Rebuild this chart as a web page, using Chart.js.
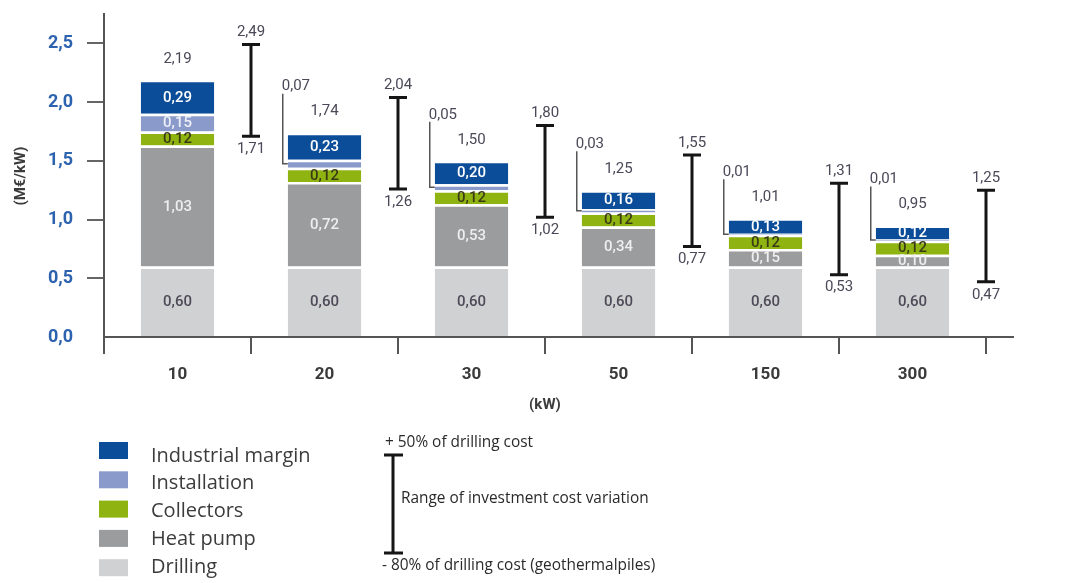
<!DOCTYPE html>
<html>
<head>
<meta charset="utf-8">
<script src="https://cdn.jsdelivr.net/npm/chart.js@4.4.0/dist/chart.umd.min.js"></script>
<style>
  html, body { margin: 0; padding: 0; background: #ffffff; }
  #wrap { width: 1083px; height: 583px; }
</style>
</head>
<body>
<div id="wrap"><canvas id="c" width="1083" height="583"></canvas></div>
<script>
// Investment cost per kW by installed heat-pump capacity
const categories = ['10', '20', '30', '50', '150', '300'];
const drilling = [0.60, 0.60, 0.60, 0.60, 0.60, 0.60];
const heatPump = [1.03, 0.72, 0.53, 0.34, 0.15, 0.10];
const collectors = [0.12, 0.12, 0.12, 0.12, 0.12, 0.12];
const installation = [0.15, 0.07, 0.05, 0.03, 0.01, 0.01];
const industrialMargin = [0.29, 0.23, 0.20, 0.16, 0.13, 0.12];

// Range of investment cost variation (+50% / -80% of drilling cost)
const rangeHigh = [2.49, 2.04, 1.80, 1.55, 1.31, 1.25];
const rangeLow = [1.71, 1.26, 1.02, 0.77, 0.53, 0.47];

const yTickValues = [0, 0.5, 1.0, 1.5, 2.0, 2.5];

const seriesNames = ['Drilling', 'Heat pump', 'Collectors', 'Installation', 'Industrial margin'];
const seriesColors = ['#d0d1d3', '#9b9c9e', '#8fb412', '#8a9bcb', '#0b4d99'];
const seriesLabelColors = ['#4e4a58', '#eeeeee', '#3a3a14', '#eef0f8', '#ffffff'];

const fmt = (v, d) => v.toFixed(d).replace('.', ',');

const valueFont = '15px Roboto';
const segFont = '500 15px Roboto';
const textGrey = '#4b4858';

const annotations = {
  id: 'annotations',
  afterDatasetsDraw(chart) {
    const ctx = chart.ctx;
    const xs = chart.scales.x;
    const ys = chart.scales.y;
    const area = chart.chartArea;
    const metas = chart.data.datasets.map((d, i) => chart.getDatasetMeta(i));
    const catW = xs.getPixelForValue(1) - xs.getPixelForValue(0);

    ctx.save();
    ctx.textAlign = 'center';
    ctx.textBaseline = 'middle';

    // labels inside the segments
    metas.forEach((meta, di) => {
      meta.data.forEach((el, i) => {
        const v = chart.data.datasets[di].data[i];
        const h = Math.abs(el.base - el.y);
        if (di === 3 && h < 14) return; // thin installation slices get a bracket
        ctx.font = segFont;
        ctx.fillStyle = seriesLabelColors[di];
        ctx.fillText(fmt(v, 2), el.x, (el.y + el.base) / 2 + 1);
      });
    });

    // totals and installation brackets
    categories.forEach((c, i) => {
      const total = chart.data.datasets.reduce((s, d) => s + d.data[i], 0);
      const top = metas[4].data[i];
      const totalY = top.y - 21;
      ctx.font = valueFont;
      ctx.fillStyle = textGrey;
      ctx.textAlign = 'center';
      ctx.fillText(fmt(total, 2), top.x, totalY);

      const inst = metas[3].data[i];
      if (Math.abs(inst.base - inst.y) < 14) {
        const left = inst.x - inst.width / 2;
        const bx = left - 5;
        const labelY = totalY - 25;
        const midY = (inst.y + inst.base) / 2;
        ctx.strokeStyle = '#555555';
        ctx.lineWidth = 1.5;
        ctx.beginPath();
        ctx.moveTo(bx, labelY + 7);
        ctx.lineTo(bx, midY);
        ctx.lineTo(left, midY);
        ctx.stroke();
        ctx.textAlign = 'left';
        ctx.fillStyle = textGrey;
        ctx.fillText(fmt(installation[i], 2), bx - 1, labelY);
        ctx.textAlign = 'center';
      }

      // range of investment cost variation
      const rx = top.x + catW / 2;
      const yHi = ys.getPixelForValue(rangeHigh[i]);
      const yLo = ys.getPixelForValue(rangeLow[i]);
      ctx.strokeStyle = '#151515';
      ctx.lineWidth = 3;
      ctx.beginPath();
      ctx.moveTo(rx, yHi); ctx.lineTo(rx, yLo);
      ctx.moveTo(rx - 9, yHi); ctx.lineTo(rx + 9, yHi);
      ctx.moveTo(rx - 9, yLo); ctx.lineTo(rx + 9, yLo);
      ctx.stroke();
      ctx.fillStyle = textGrey;
      ctx.font = valueFont;
      ctx.fillText(fmt(rangeHigh[i], 2), rx, yHi - 12);
      ctx.fillText(fmt(rangeLow[i], 2), rx, yLo + 13);
    });

    // x-axis line runs a little past the last category
    ctx.strokeStyle = '#555555';
    ctx.lineWidth = 2;
    ctx.beginPath();
    ctx.moveTo(area.right, area.bottom);
    ctx.lineTo(area.right + 28, area.bottom);
    ctx.stroke();
    ctx.restore();
  },
  afterDraw(chart) {
    const ctx = chart.ctx;
    ctx.save();

    // axis titles
    ctx.fillStyle = '#3c3c3c';
    ctx.font = 'bold 15px Roboto';
    ctx.textAlign = 'center';
    ctx.textBaseline = 'middle';
    ctx.fillText('(kW)', 545, 405);
    ctx.save();
    ctx.translate(21, 176);
    ctx.rotate(-Math.PI / 2);
    ctx.fillText('(M€/kW)', 0, 0);
    ctx.restore();

    // series legend, top segment first
    ctx.textAlign = 'left';
    ctx.font = '20px "Open Sans"';
    for (let k = 0; k < seriesNames.length; k++) {
      const di = seriesNames.length - 1 - k;
      const top = 442 + k * 29.3;
      ctx.fillStyle = seriesColors[di];
      ctx.fillRect(99, top, 29, 17);
      ctx.fillStyle = '#3c3c3c';
      ctx.fillText(seriesNames[di], 151, 456 + k * 27.7);
    }

    // range legend
    ctx.strokeStyle = '#151515';
    ctx.lineWidth = 3;
    ctx.beginPath();
    ctx.moveTo(393, 455); ctx.lineTo(393, 553);
    ctx.moveTo(384, 455); ctx.lineTo(403, 455);
    ctx.moveTo(384, 553); ctx.lineTo(403, 553);
    ctx.stroke();
    ctx.fillStyle = '#2a2a2a';
    ctx.font = '15.4px "Open Sans"';
    ctx.fillText('+ 50% of drilling cost', 385, 443);
    ctx.fillText('Range of investment cost variation', 401, 499);
    ctx.fillText('- 80% of drilling cost (geothermalpiles)', 382, 566);
    ctx.restore();
  }
};

const seriesData = [drilling, heatPump, collectors, installation, industrialMargin];

new Chart(document.getElementById('c'), {
  type: 'bar',
  data: {
    labels: categories,
    datasets: seriesData.map((d, i) => ({
      label: seriesNames[i],
      data: d,
      backgroundColor: seriesColors[i],
      borderColor: '#ffffff',
      borderWidth: { top: 2.5, left: 0, right: 0, bottom: 0 },
      borderSkipped: false,
      categoryPercentage: 1.0,
      barPercentage: 0.5
    }))
  },
  options: {
    responsive: false,
    animation: false,
    events: [],
    layout: { padding: { left: 0, top: 14, right: 97, bottom: 0 } },
    plugins: { legend: { display: false }, tooltip: { enabled: false } },
    scales: {
      x: {
        stacked: true,
        afterFit(scale) { scale.height = 246; },
        border: { display: true, color: '#555555', width: 2 },
        grid: { offset: true, drawOnChartArea: false, drawTicks: true, tickLength: 17, color: '#555555', lineWidth: 2 },
        ticks: { color: '#3a3a3a', font: { family: 'Roboto', size: 17, weight: 'bold' }, padding: 11 }
      },
      y: {
        stacked: true,
        min: 0,
        max: 2.75,
        afterFit(scale) {
          scale.width = 104;
          scale.paddingTop = 0;
          scale.paddingBottom = 0;
        },
        afterBuildTicks(scale) { scale.ticks = yTickValues.map(v => ({ value: v })); },
        border: { display: true, color: '#555555', width: 2 },
        grid: {
          drawOnChartArea: false, drawTicks: true, tickLength: 17, lineWidth: 2,
          color: c => (c.tick && c.tick.value === 0) ? 'rgba(0,0,0,0)' : '#666666'
        },
        ticks: {
          includeBounds: false,
          color: '#2c62ae',
          font: { family: 'Roboto', size: 18, weight: 'bold' },
          padding: 14,
          callback: v => fmt(v, 1)
        }
      }
    }
  },
  plugins: [annotations]
});
</script>
</body>
</html>
